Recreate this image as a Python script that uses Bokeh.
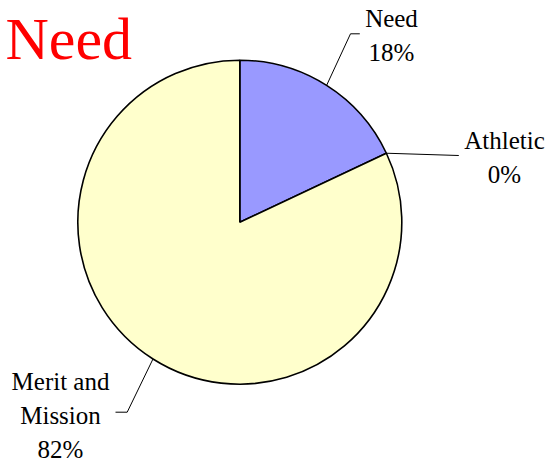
import math
from bokeh.plotting import figure
from bokeh.models import Range1d, ColumnDataSource
from bokeh.core.properties import value
from bokeh.embed import file_html
from bokeh.resources import INLINE

# ---- data ----
categories = ["Need", "Athletic", "Merit and Mission"]
label_lines = [["Need"], ["Athletic"], ["Merit and", "Mission"]]
percents = [18, 0, 82]
colors = ["#9999FF", "#FFFFCC", "#FFFFCC"]

# ---- layout (pixels, y measured upward) ----
W, H = 552, 464
CX, CY, R = 239.3, H - 221.7, 162.0
elbows = [[(350.0, 33.3), (359.3, 33.3)],
          [(458.3, 155.0)],
          [(126.7, 411.7), (115.0, 411.7)]]
label_pos = [(391.0, 35.0), (504.0, 157.0), (60.0, 415.0)]
LINE_STEP = 34.0
leader_at_edge = [False, True, False]

p = figure(width=W, height=H, output_backend="svg", toolbar_location=None,
           x_range=Range1d(0, W), y_range=Range1d(0, H), min_border=0)
p.axis.visible = False
p.grid.visible = False
p.outline_line_color = None

tx, ty, tt = [], [], []
for i in range(3):
    lines = label_lines[i] + [f"{percents[i]}%"]
    n = len(lines)
    for k, s in enumerate(lines):
        tx.append(label_pos[i][0])
        ty.append(H - (label_pos[i][1] + (k - (n - 1) / 2) * LINE_STEP))
        tt.append(s)
p.text(x=tx, y=ty, text=tt,
       text_font=value("Liberation Serif"), text_font_size=value("25px"),
       text_align="center", text_baseline="middle", text_color="black")

# diagnostic big sample
p.text(x=[5], y=[H - 5], text=["Need"], text_font=value("Liberation Serif"),
       text_font_size=value("60px"), text_baseline="top", text_color="red")

ends, starts, mids = [], [], []
cur = math.pi / 2
for v in percents:
    a = v / 100 * 2 * math.pi
    ends.append(cur)
    starts.append(cur - a)
    mids.append(cur - a / 2)
    cur -= a

for i, cat in enumerate(categories):
    ang = ends[i] if leader_at_edge[i] else mids[i]
    xs = [CX + R * math.cos(ang)]
    ys = [CY + R * math.sin(ang)]
    for (ex, ey) in elbows[i]:
        xs.append(ex)
        ys.append(H - ey)
    p.line(xs, ys, line_color="black", line_width=1)

idx = [i for i, v in enumerate(percents) if v > 0]
src = ColumnDataSource(dict(x=[CX] * len(idx), y=[CY] * len(idx),
                            start=[starts[i] for i in idx], end=[ends[i] for i in idx],
                            color=[colors[i] for i in idx]))
p.wedge(x="x", y="y", radius=R, start_angle="start", end_angle="end",
        direction="anticlock", fill_color="color", line_color="black",
        line_width=1.6, source=src)

open("out.html", "w").write(file_html(p, INLINE))
